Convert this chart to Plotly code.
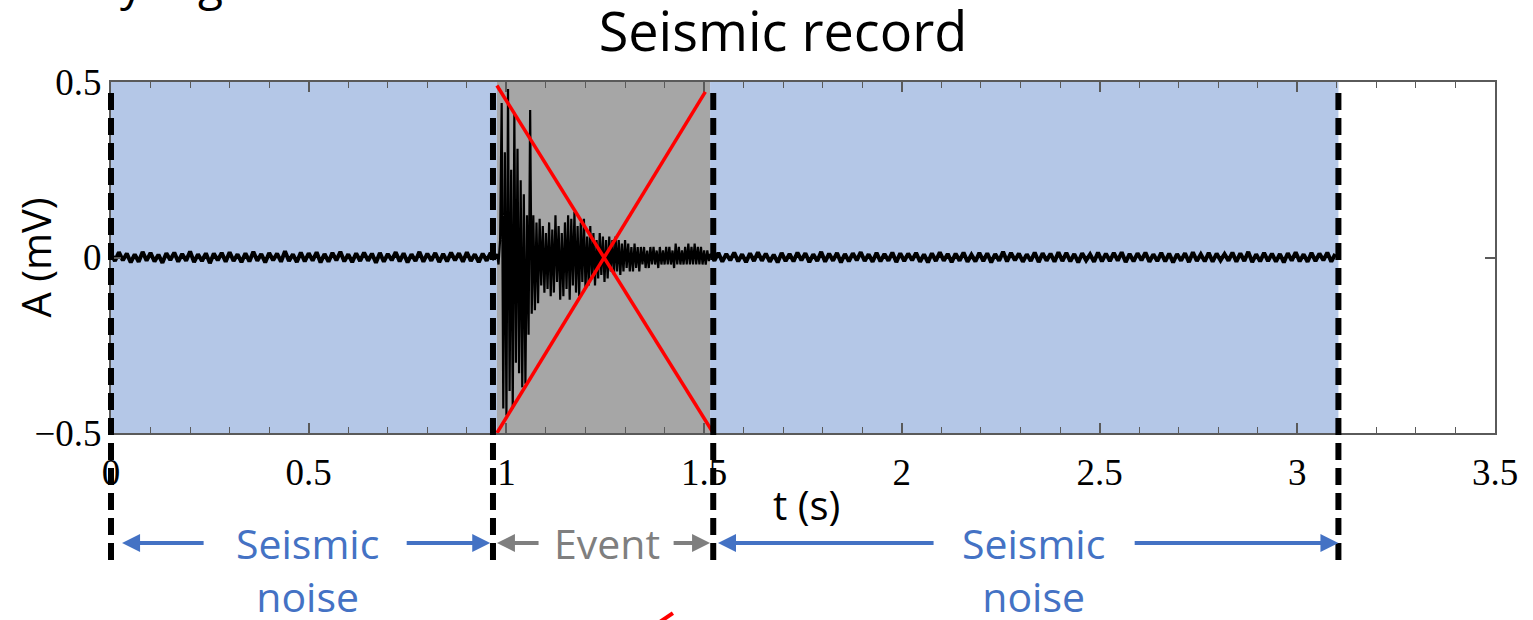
import numpy as np
import plotly.graph_objects as go

# ---------------- data ----------------
# segment boundaries (s)
seg_bounds = [0.0, 0.966, 1.523, 3.104]
noise_region_1 = [0.0, 0.976]
event_region = [0.976, 1.515]
noise_region_2 = [1.515, 3.104]

# pre-event noise, sampled every 10 ms from t = 0 (µV)
noise1_t0, noise1_dt = 0.0, 0.01
noise1_uV = [12, -10, 15, -8, 11, -14, 9, -12, 16, -9,
             13, -11, 8, -15, 12, -7, 14, -12, 10, -9,
             17, -13, 9, -10, 12, -16, 11, -8, 13, -12,
             15, -10, 9, -13, 12, -11, 16, -9, 10, -14,
             13, -8, 11, -12, 18, -10, 9, -13, 14, -11,
             12, -9, 15, -14, 10, -12, 13, -8, 16, -11,
             9, -13, 12, -10, 14, -9, 11, -15, 13, -12,
             10, -8, 15, -11, 12, -14, 9, -10, 16, -12,
             11, -9, 13, -13, 10, -11, 14, -8, 12, -12,
             15, -10, 9, -13, 11, -9, 13, -7]

# event, sampled every 4 ms from t = 0.976 s (mV)
event_t0, event_dt = 0.976, 0.004
event_mV = [0.01, -0.02, 0.05, 0.44, -0.43, 0.30, -0.45, 0.48, -0.38, 0.25,
            -0.43, 0.41, -0.30, 0.31, -0.33, 0.22, -0.37, 0.18, -0.36, 0.12,
            -0.22, 0.42, -0.16, 0.12, -0.15, 0.10, -0.13, 0.11, -0.08, 0.09,
            -0.10, 0.07, -0.09, 0.10, -0.11, 0.08, -0.10, 0.12, -0.07, 0.09,
            -0.12, 0.07, -0.11, 0.10, -0.09, 0.12, -0.12, 0.11, -0.08, 0.13,
            -0.10, 0.09, -0.11, 0.10, -0.07, 0.11, -0.09, 0.06, -0.08, 0.09,
            -0.06, 0.07, -0.08, 0.05, -0.06, 0.07, -0.05, 0.06, -0.07, 0.05,
            -0.06, 0.06, -0.04, 0.05, -0.05, 0.06, -0.04, 0.05, -0.05, 0.04,
            -0.04, 0.05, -0.03, 0.04, -0.04, 0.03, -0.04, 0.04, -0.03, 0.03,
            -0.04, 0.03, -0.02, 0.03, -0.03, 0.02, -0.03, 0.03, -0.02, 0.03,
            -0.02, 0.02, -0.03, 0.03, -0.02, 0.02, -0.02, 0.03, -0.02, 0.03,
            -0.02, 0.02, -0.03, 0.04, -0.02, 0.03, -0.02, 0.02, -0.02, 0.03,
            -0.02, 0.04, -0.02, 0.03, -0.02, 0.04, -0.02, 0.03, -0.02, 0.03,
            -0.02, 0.02, -0.02, 0.02, -0.01]

# post-event noise, sampled every 10 ms from t = 1.516 s (µV)
noise2_t0, noise2_dt = 1.516, 0.01
noise2_uV = [11, -9, 13, -12, 10, -8, 14, -11, 9, -13,
             12, -10, 15, -9, 11, -12, 8, -14, 13, -10,
             10, -11, 14, -8, 12, -13, 9, -10, 16, -12,
             11, -9, 13, -14, 10, -11, 12, -8, 15, -10,
             9, -12, 13, -11, 10, -9, 14, -13, 12, -10,
             11, -8, 13, -12, 9, -14, 12, -10, 15, -9,
             10, -13, 11, -9, 14, -12, 8, -11, 13, -10,
             12, -14, 10, -9, 16, -11, 13, -8, 11, -12,
             9, -10, 14, -13, 12, -9, 11, -12, 15, -10,
             13, -11, 10, -14, 12, -8, 9, -12, 14, -11,
             11, -10, 13, -9, 15, -13, 10, -11, 12, -8,
             14, -12, 9, -10, 13, -11, 11, -14, 10, -9,
             12, -13, 15, -10, 9, -11, 13, -12, 11, -8,
             10, -9, 14, -12, 12, -10, 16, -13, 9, -11,
             13, -10, 11, -12, 10, -14, 12, -9, 15, -11,
             9, -12, 13, -10, 11, -8, 14, -12, 10]

x_range = [0, 3.5]
y_range = [-0.5, 0.5]
x_tickvals = [0, 0.5, 1, 1.5, 2, 2.5, 3, 3.5]
x_ticktext = ["0", "0.5", "1", "1.5", "2", "2.5", "3", "3.5"]
y_tickvals = [-0.5, 0, 0.5]
y_ticktext = ["\u22120.5", "0", "0.5"]

title_text = "Seismic record"
x_title = "t (s)"
y_title = "A (mV)"
label_noise = "Seismic<br>noise"
label_event = "Event"

# ---------------- build trace ----------------
t1 = noise1_t0 + noise1_dt * np.arange(len(noise1_uV))
a1 = np.array(noise1_uV) / 1000.0
te = event_t0 + event_dt * np.arange(len(event_mV))
ae = np.array(event_mV)
t2 = noise2_t0 + noise2_dt * np.arange(len(noise2_uV))
a2 = np.array(noise2_uV) / 1000.0

BLUE_FILL = "#B4C7E7"
GRAY_FILL = "#A6A6A6"
BLUE_TXT = "#4472C4"
GRAY_TXT = "#7F7F7F"
SANS = "Open Sans, Noto Sans, sans-serif"
SERIF = "Liberation Serif, Times New Roman, serif"

fig = go.Figure()
fig.add_trace(go.Scatter(x=t1, y=a1, mode="lines", line=dict(color="black", width=4),
                         hoverinfo="skip", showlegend=False))
fig.add_trace(go.Scatter(x=np.concatenate([t1[-1:], te, t2[:1]]),
                         y=np.concatenate([a1[-1:], ae, a2[:1]]), mode="lines",
                         line=dict(color="black", width=2.2), hoverinfo="skip", showlegend=False))
fig.add_trace(go.Scatter(x=t2, y=a2, mode="lines", line=dict(color="black", width=4),
                         hoverinfo="skip", showlegend=False))

shapes = []
# shaded regions
for r, c in [(noise_region_1, BLUE_FILL), (event_region, GRAY_FILL), (noise_region_2, BLUE_FILL)]:
    shapes.append(dict(type="rect", xref="x", yref="y", x0=r[0], x1=r[1], y0=y_range[0], y1=y_range[1],
                       fillcolor=c, line=dict(width=0), layer="below"))
# red cross over event
shapes.append(dict(type="line", xref="x", yref="y", x0=0.976, y0=0.49, x1=1.523, y1=-0.5,
                   line=dict(color="#FF0000", width=3.5), layer="above"))
shapes.append(dict(type="line", xref="x", yref="y", x0=0.976, y0=-0.5, x1=1.503, y1=0.472,
                   line=dict(color="#FF0000", width=3.5), layer="above"))
# dashed boundary lines (placed in x-domain units so that the x=0 line is not clipped)
for b in seg_bounds:
    xd = (b - x_range[0]) / (x_range[1] - x_range[0])
    shapes.append(dict(type="line", xref="x domain", yref="paper", x0=xd, x1=xd, y0=-0.362, y1=0.99,
                       line=dict(color="black", width=6, dash="17px,8px"), layer="above"))
# small red stroke at bottom
shapes.append(dict(type="line", xref="paper", yref="paper", x0=0.3967, y0=-0.538, x1=0.4060, y1=-0.513,
                   line=dict(color="#FF0000", width=4)))

annotations = []
arrow_y = -0.3134
arrows = [  # (tail, head, colour)
    (0.238, 0.028, BLUE_TXT), (0.744, 0.959, BLUE_TXT),
    (1.085, 0.976, GRAY_TXT), (1.419, 1.515, GRAY_TXT),
    (2.084, 1.535, BLUE_TXT), (2.585, 3.104, BLUE_TXT),
]
for tail, head, col in arrows:
    annotations.append(dict(x=head, y=arrow_y, xref="x", yref="paper",
                            ax=tail, ay=0, axref="x", ayref="pixel",
                            showarrow=True, arrowhead=2, arrowsize=0.9, arrowwidth=4,
                            arrowcolor=col, text=""))
for xc in (0.496, 2.332):
    annotations.append(dict(x=xc, y=-0.389, xref="x", yref="paper", yanchor="middle",
                            text=label_noise, showarrow=False,
                            font=dict(family=SANS, size=41, color=BLUE_TXT)))
annotations.append(dict(x=1.255, y=arrow_y, xref="x", yref="paper", yanchor="middle",
                        text=label_event, showarrow=False,
                        font=dict(family=SANS, size=41, color=GRAY_TXT)))
annotations.append(dict(x=1.758, y=-0.205, xref="x", yref="paper", yanchor="middle",
                        text=x_title, showarrow=False,
                        font=dict(family=SANS, size=40, color="black")))
annotations.append(dict(x=-0.0549, y=0.5, xref="paper", yref="paper", textangle=-90,
                        xanchor="center", yanchor="middle",
                        text=y_title, showarrow=False,
                        font=dict(family=SANS, size=40, color="black")))
# clipped text fragments at the very top-left (only their descenders are visible)
annotations.append(dict(x=(118 - 111) / 1384, y=1.19, xref="paper", yref="paper", yanchor="bottom",
                        text="y", showarrow=False, font=dict(family=SANS, size=46, color="black")))
annotations.append(dict(x=(196 - 111) / 1384, y=1.19, xref="paper", yref="paper", yanchor="bottom",
                        text="g", showarrow=False, font=dict(family=SANS, size=46, color="black")))

axis_common = dict(showgrid=False, zeroline=False, showline=True, linecolor="#5a5a5a",
                   linewidth=2, mirror="ticks", ticks="inside", ticklen=10, tickwidth=1.5,
                   tickcolor="#5a5a5a",
                   tickfont=dict(family=SERIF, size=37, color="black"))

fig.update_layout(
    width=1533, height=620,
    margin=dict(l=111, r=38, t=82, b=187),
    paper_bgcolor="white", plot_bgcolor="white",
    showlegend=False,
    title=dict(text=title_text, x=(783 - 111) / 1384, xref="paper", xanchor="center",
               y=1 - 32 / 620, yref="container", yanchor="middle",
               font=dict(family=SANS, size=54, color="black")),
    xaxis=dict(range=x_range, tickvals=x_tickvals, ticktext=x_ticktext,
               minor=dict(ticks="inside", dtick=0.1, tick0=0, ticklen=6, tickcolor="#5a5a5a", tickwidth=1.2),
               ticklabelstandoff=6, **axis_common),
    yaxis=dict(range=y_range, tickvals=y_tickvals, ticktext=y_ticktext, **axis_common),
    shapes=shapes, annotations=annotations,
)

fig.write_html("out.html")
